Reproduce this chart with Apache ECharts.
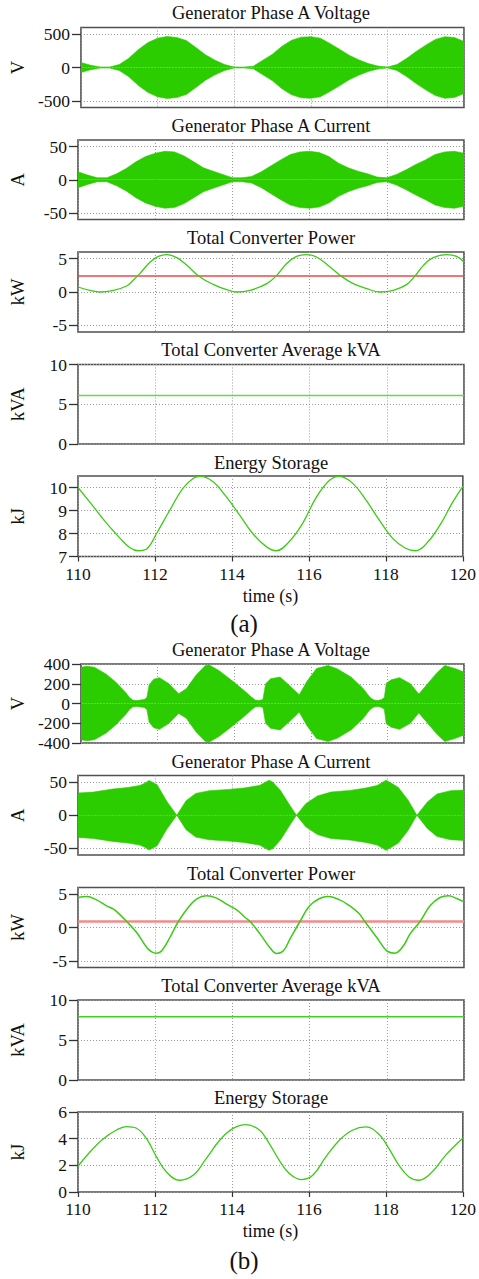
<!DOCTYPE html>
<html>
<head>
<meta charset="utf-8">
<script src="https://cdn.jsdelivr.net/npm/echarts@6/dist/echarts.min.js"></script>
<style>
  html, body { margin: 0; padding: 0; background: #fff; }
  #chart { width: 479px; height: 1279px; }
</style>
</head>
<body>
<div id="chart"></div>
<script>
// ---------- data: case (a) ----------
const timeA = [110,110.25,110.5,110.75,111,111.25,111.5,111.75,112,112.25,112.5,112.75,113,113.25,113.5,113.75,114,114.25,114.5,114.75,115,115.25,115.5,115.75,116,116.25,116.5,116.75,117,117.25,117.5,117.75,118,118.25,118.5,118.75,119,119.25,119.5,119.75,120];
// peak envelope of the phase A voltage (V) and current (A)
const voltEnvA = [75,35,8,8,45,140,270,375,440,465,450,405,300,190,110,45,8,6,20,110,200,320,410,455,462,440,360,275,185,115,60,22,6,45,135,240,335,420,462,450,390];
const currEnvA = [12,7,3,3,9,17,27,35,40,43,42,36,27,18,13,8,3,3,5,12,21,30,38,42,43,41,35,25,18,13,9,4,3,8,15,23,30,38,42,43,40];

const powerTimeA = [110,110.31,110.57,110.92,111.26,111.43,111.6,111.87,112.08,112.3,112.56,112.82,113.16,113.5,113.85,114.11,114.46,114.89,115.15,115.4,115.66,115.92,116.18,116.53,116.79,117.13,117.48,117.82,118.17,118.51,118.73,118.95,119.2,119.55,119.81,120];
const powerA = [0.75,0.25,0,0.25,0.9,1.75,2.75,4.5,5.35,5.6,5.15,4.0,2.25,1.15,0.35,0,0.25,1.25,2.5,4.25,5.35,5.6,5.25,3.75,2.5,1.25,0.5,0,0.25,1.1,2.4,4.0,5.15,5.6,5.35,4.5];
const powerAvgA = 2.4;
const kvaA = 6.1;

const energyTimeA = [110,110.4,110.74,111.09,111.35,111.56,111.8,112.04,112.38,112.73,113.0,113.18,113.5,113.85,114.2,114.54,114.89,115.15,115.49,115.84,116.18,116.53,116.79,117.13,117.48,117.82,118.17,118.51,118.77,119.1,119.46,119.72,120];
const energyA = [10.0,9.17,8.45,7.8,7.38,7.25,7.35,8.0,9.0,9.97,10.4,10.48,10.26,9.6,8.8,8.0,7.43,7.25,7.65,8.45,9.54,10.3,10.48,10.19,9.46,8.6,7.8,7.36,7.25,7.65,8.52,9.32,10.05];

// ---------- data: case (b) ----------
const voltTimeB = [110,110.15,110.35,110.65,110.9,111.15,111.27,111.35,111.45,111.55,111.65,111.72,111.78,111.9,112.05,112.3,112.55,112.75,113.0,113.25,113.35,113.6,113.95,114.25,114.45,114.55,114.65,114.75,114.82,114.95,115.2,115.45,115.7,115.9,116.15,116.45,116.7,117.05,117.35,117.55,117.65,117.75,117.85,117.92,117.97,118.1,118.32,118.6,118.82,119.05,119.3,119.5,119.8,120];
const voltEnvB = [367,378,367,300,220,120,60,35,30,35,40,60,190,245,262,200,100,150,285,385,390,335,230,135,65,35,30,40,200,250,268,180,88,225,355,385,350,268,160,60,35,30,40,60,205,240,262,200,95,200,315,385,350,318];

const currTimeB = [110,110.4,110.9,111.3,111.6,111.72,111.84,112.05,112.3,112.56,112.8,113.05,113.4,113.9,114.3,114.7,114.95,115.05,115.25,115.5,115.66,115.9,116.2,116.55,117.05,117.45,117.75,117.98,118.1,118.3,118.55,118.78,119.05,119.3,119.65,120];
const currEnvB = [33.5,35,39.5,42,45,48,52.5,46,21,0,22,33,37,39,41,45,53,50,37,14,0,17.5,29,35,37.5,41,45,53,49,42,23,0,20,32,37,38];

const powerTimeB = [110,110.22,110.48,110.74,110.92,111.09,111.26,111.52,111.78,111.91,112.04,112.17,112.38,112.6,112.82,113.07,113.33,113.59,113.85,114.11,114.33,114.46,114.72,114.97,115.15,115.32,115.49,115.75,116.0,116.26,116.48,116.78,117.0,117.28,117.43,117.74,118.0,118.21,118.43,118.6,118.86,119.12,119.38,119.6,119.81,120];
const powerB = [4.5,4.65,4.15,3.25,2.75,1.9,0.9,-0.75,-3.0,-3.65,-3.85,-3.5,-1.5,0.9,2.75,4.25,4.75,4.4,3.5,2.65,1.5,0.9,-1.0,-3.0,-3.9,-3.5,-1.75,0.9,3.25,4.35,4.65,4.15,3.4,2.1,0.9,-1.5,-3.5,-3.85,-2.75,-1.0,0.9,3.25,4.5,4.75,4.35,3.85];
const powerAvgB = 0.9;
const kvaB = 7.9;

const energyTimeB = [110,110.31,110.66,111.0,111.26,111.52,111.78,112.04,112.3,112.64,112.99,113.33,113.68,114.02,114.37,114.72,114.97,115.23,115.49,115.8,116.1,116.44,116.79,117.13,117.48,117.82,118.08,118.34,118.6,118.86,119.2,119.55,120];
const energyB = [1.93,3.0,4.0,4.65,4.9,4.78,4.0,2.63,1.5,0.88,1.25,2.5,3.88,4.75,5.05,4.63,3.63,2.38,1.38,0.93,1.25,2.63,3.88,4.63,4.88,4.33,3.25,2.0,1.13,0.88,1.5,2.75,4.05];

// ---------- axis ticks ----------
const timeMin = 110, timeMax = 120, timeStep = 2;
const voltTicksA = [-500, 0, 500];
const voltTicksB = [-400, -200, 0, 200, 400];
const currTicks = [-50, 0, 50];
const powerTicks = [-5, 0, 5];
const kvaTicks = [0, 5, 10];
const energyTicksA = [7, 8, 9, 10];
const energyTicksB = [0, 2, 4, 6];

// ---------- styling ----------
const SERIF = 'Liberation Serif, Times New Roman, serif';
const GREEN = '#2bcc00';
const LINE_GREEN = '#3acc14';

const pairs = (xs, ys) => xs.map((x, i) => [x, ys[i]]);
const negate = ys => ys.map(v => -v);

// panel layout: plot tops and heights, title centre lines
const panels = [
  { top: 27.5, h: 80,   title: 'Generator Phase A Voltage',   titleY: 12.5,  name: 'V',   min: -600, max: 600,  ticks: voltTicksA },
  { top: 140,  h: 79.5, title: 'Generator Phase A Current',   titleY: 126,   name: 'A',   min: -60,  max: 60,   ticks: currTicks },
  { top: 252,  h: 80,   title: 'Total Converter Power',       titleY: 238,   name: 'kW',  min: -6,   max: 6,    ticks: powerTicks },
  { top: 364.5,h: 79.5, title: 'Total Converter Average kVA', titleY: 350,   name: 'kVA', min: 0,    max: 10,   ticks: kvaTicks },
  { top: 476,  h: 80.5, title: 'Energy Storage',              titleY: 462.5, name: 'kJ',  min: 7,    max: 10.5, ticks: energyTicksA, bottom: true },
  { top: 664,  h: 79,   title: 'Generator Phase A Voltage',   titleY: 650,   name: 'V',   min: -400, max: 400,  ticks: voltTicksB },
  { top: 775.5,h: 79.5, title: 'Generator Phase A Current',   titleY: 762,   name: 'A',   min: -60,  max: 60,   ticks: currTicks },
  { top: 887.5,h: 80,   title: 'Total Converter Power',       titleY: 873.5, name: 'kW',  min: -6,   max: 6,    ticks: powerTicks },
  { top: 1000, h: 80,   title: 'Total Converter Average kVA', titleY: 986,   name: 'kVA', min: 0,    max: 10,   ticks: kvaTicks },
  { top: 1112, h: 80,   title: 'Energy Storage',              titleY: 1097.5,name: 'kJ',  min: 0,    max: 6,    ticks: energyTicksB, bottom: true }
];

const gridLine = { show: true, lineStyle: { color: '#9a9a9a', width: 1, type: [1, 2] } };

const grid = panels.map(p => ({
  left: 78, right: 15, top: p.top, height: p.h,
  show: true, borderColor: '#505050', borderWidth: 1.6, backgroundColor: 'transparent'
}));

const xAxis = panels.map((p, i) => ({
  gridIndex: i, type: 'value', min: timeMin, max: timeMax, interval: timeStep,
  axisLine: { show: false },
  axisTick: { show: !!p.bottom, inside: false, length: 5, lineStyle: { color: '#333', width: 1.2 } },
  axisLabel: { show: !!p.bottom, fontFamily: SERIF, fontSize: 17.5, color: '#111', margin: 8 },
  splitLine: gridLine,
  name: p.bottom ? 'time (s)' : '',
  nameLocation: 'middle', nameGap: 30,
  nameTextStyle: { fontFamily: SERIF, fontSize: 18, color: '#111' }
}));

const yAxis = panels.map((p, i) => ({
  gridIndex: i, type: 'value', min: p.min, max: p.max,
  name: p.name, nameLocation: 'middle', nameGap: 51,
  nameTextStyle: { fontFamily: SERIF, fontSize: 18.5, color: '#111' },
  axisLine: { show: false },
  axisTick: { show: true, inside: false, length: 9, customValues: p.ticks, lineStyle: { color: '#333', width: 1.3 } },
  axisLabel: { customValues: p.ticks, fontFamily: SERIF, fontSize: 17.5, color: '#111', margin: 11 },
  splitLine: gridLine
}));

// filled band between +envelope and -envelope (the carrier is too dense to resolve)
function band(idx, xs, env) {
  const common = {
    type: 'line', xAxisIndex: idx, yAxisIndex: idx, symbol: 'none', silent: true,
    lineStyle: { width: 0.6, color: GREEN }, itemStyle: { color: GREEN },
    areaStyle: { color: GREEN, opacity: 1, origin: 0 }
  };
  return [
    Object.assign({}, common, { data: pairs(xs, env) }),
    Object.assign({}, common, { data: pairs(xs, negate(env)) })
  ];
}
function curve(idx, xs, ys, opts) {
  return Object.assign({
    type: 'line', xAxisIndex: idx, yAxisIndex: idx, symbol: 'none', silent: true,
    smooth: 0.4, data: pairs(xs, ys), lineStyle: { color: LINE_GREEN, width: 1.3 }
  }, opts || {});
}
function level(idx, v, color, width) {
  return {
    type: 'line', xAxisIndex: idx, yAxisIndex: idx, symbol: 'none', silent: true,
    data: [[timeMin, v], [timeMax, v]], lineStyle: { color: color, width: width }
  };
}

const series = [
  ...band(0, timeA, voltEnvA),
  ...band(1, timeA, currEnvA),
  level(2, powerAvgA, '#ec4a4a', 1.3),
  curve(2, powerTimeA, powerA),
  level(3, kvaA, '#66d94a', 1.6),
  curve(4, energyTimeA, energyA),
  ...band(5, voltTimeB, voltEnvB),
  ...band(6, currTimeB, currEnvB),
  level(7, powerAvgB, '#f58a8a', 2.6),
  curve(7, powerTimeB, powerB, { lineStyle: { color: LINE_GREEN, width: 1.5 } }),
  level(8, kvaB, '#44d020', 1.5),
  curve(9, energyTimeB, energyB)
];

const texts = panels.map(p => ({
  type: 'text', x: 271, y: p.titleY,
  style: { text: p.title, font: '18.5px ' + SERIF, fill: '#111', align: 'center', verticalAlign: 'middle' }
}));
texts.push(
  { type: 'text', x: 244, y: 623, style: { text: '(a)', font: '25px ' + SERIF, fill: '#111', align: 'center', verticalAlign: 'middle' } },
  { type: 'text', x: 244, y: 1260, style: { text: '(b)', font: '25px ' + SERIF, fill: '#111', align: 'center', verticalAlign: 'middle' } }
);

const chart = echarts.init(document.getElementById('chart'), null, { renderer: 'svg' });
chart.setOption({
  animation: false,
  backgroundColor: '#fff',
  grid, xAxis, yAxis, series,
  graphic: texts
});
</script>
</body>
</html>
